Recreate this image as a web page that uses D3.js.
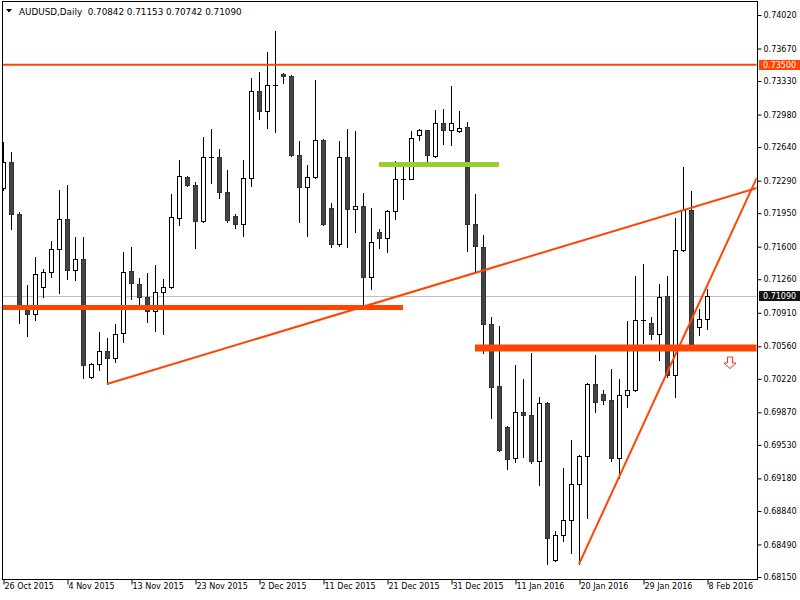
<!DOCTYPE html>
<html lang="en">
<head>
  <meta charset="utf-8">
  <title>AUDUSD Daily</title>
  <script src="https://d3js.org/d3.v7.min.js"></script>
  <style>

  body {
    margin: 0;
    background: white;
  }

  .axis text {
    font-family: "DejaVu Sans", Verdana, sans-serif;
    font-size: 8px;
    fill: black;
  }

  .axis line {
    stroke: black;
  }

  .header {
    font-family: "DejaVu Sans", Verdana, sans-serif;
    font-size: 8.8px;
    fill: black;
  }

  .price-box {
    font-family: "DejaVu Sans", Verdana, sans-serif;
    font-size: 8px;
    fill: white;
  }

  </style>
</head>
<body>
<script>

// Chart data (daily candles, 26 Oct 2015 .. 8 Feb 2016)
var opens = [
  0.72213, 0.72484, 0.71942, 0.70959, 0.70897, 0.71179, 0.71336, 0.71576, 0.71890, 0.71357,
  0.71472, 0.70239, 0.70374, 0.70510, 0.70437, 0.70699, 0.71347, 0.71211, 0.71075, 0.70928,
  0.71127, 0.71179, 0.71900, 0.72328, 0.72244, 0.71869, 0.72537, 0.72537, 0.72172, 0.71921,
  0.71837, 0.72317, 0.73227, 0.73017, 0.73289, 0.73404, 0.73383, 0.72558, 0.72223, 0.72328,
  0.72714, 0.72004, 0.71628, 0.72537, 0.71994, 0.72025, 0.71284, 0.71754, 0.71691, 0.71973,
  0.72312, 0.72307, 0.72766, 0.72819, 0.72547, 0.72892, 0.72819, 0.72808, 0.72851, 0.71837,
  0.71597, 0.70792, 0.70145, 0.69717, 0.69393, 0.69874, 0.69842, 0.69362, 0.69968, 0.68327,
  0.68589, 0.68745, 0.69122, 0.69414, 0.70166, 0.70061, 0.69999, 0.69393, 0.70051, 0.70103,
  0.70834, 0.70803, 0.70688, 0.71085, 0.70259, 0.71566, 0.71984, 0.70761, 0.70842
];
var highs = [
  0.72693, 0.72589, 0.71963, 0.71200, 0.71493, 0.71367, 0.71660, 0.72192, 0.72244, 0.71702,
  0.71702, 0.70385, 0.70709, 0.70646, 0.70792, 0.71545, 0.71597, 0.71273, 0.71326, 0.71409,
  0.71263, 0.72150, 0.72505, 0.72338, 0.72276, 0.72746, 0.72829, 0.72620, 0.72401, 0.71942,
  0.72505, 0.73362, 0.73425, 0.73634, 0.73853, 0.73415, 0.73394, 0.72704, 0.72453, 0.73341,
  0.72720, 0.72057, 0.72704, 0.72829, 0.72808, 0.72161, 0.72004, 0.71785, 0.71984, 0.72495,
  0.72484, 0.72808, 0.72829, 0.72822, 0.73028, 0.73038, 0.73279, 0.73017, 0.72903, 0.72150,
  0.71722, 0.70865, 0.70771, 0.69727, 0.70364, 0.70218, 0.70490, 0.70030, 0.69975, 0.68630,
  0.69289, 0.69581, 0.69425, 0.70176, 0.70469, 0.70103, 0.70322, 0.70218, 0.70823, 0.71294,
  0.71419, 0.70865, 0.71211, 0.71294, 0.71900, 0.72432, 0.72182, 0.70949, 0.71153
];
var lows = [
  0.72192, 0.71785, 0.70803, 0.70667, 0.70834, 0.71075, 0.71284, 0.71117, 0.71263, 0.71252,
  0.70228, 0.70228, 0.70312, 0.70166, 0.70395, 0.70604, 0.71054, 0.70991, 0.70813, 0.70719,
  0.70688, 0.71168, 0.71827, 0.72234, 0.71587, 0.71858, 0.72265, 0.72109, 0.71858, 0.71796,
  0.71712, 0.72234, 0.72934, 0.72840, 0.72798, 0.73310, 0.72550, 0.71858, 0.71712, 0.72317,
  0.71830, 0.71597, 0.71608, 0.71597, 0.71754, 0.70970, 0.71158, 0.71587, 0.71545, 0.71890,
  0.72098, 0.72302, 0.72714, 0.72443, 0.72540, 0.72672, 0.72661, 0.72798, 0.71555, 0.71326,
  0.70490, 0.69811, 0.69466, 0.69278, 0.69351, 0.69403, 0.69341, 0.69111, 0.68285, 0.68320,
  0.68526, 0.68401, 0.68285, 0.68766, 0.69874, 0.69957, 0.69362, 0.69184, 0.69926, 0.70092,
  0.70594, 0.70636, 0.70416, 0.70239, 0.70030, 0.71560, 0.70577, 0.70677, 0.70742
];
var closes = [
  0.72484, 0.71942, 0.70949, 0.70897, 0.71315, 0.71336, 0.71576, 0.71890, 0.71357, 0.71472,
  0.70364, 0.70374, 0.70510, 0.70437, 0.70688, 0.71336, 0.71221, 0.71075, 0.70928, 0.71127,
  0.71179, 0.71910, 0.72338, 0.72244, 0.71869, 0.72537, 0.72532, 0.72172, 0.71879, 0.71837,
  0.72317, 0.73227, 0.73017, 0.73289, 0.73285, 0.73383, 0.72558, 0.72223, 0.72328, 0.72714,
  0.71837, 0.71628, 0.72537, 0.71994, 0.72025, 0.71284, 0.71649, 0.71691, 0.71973, 0.72307,
  0.72302, 0.72735, 0.72819, 0.72558, 0.72892, 0.72819, 0.72892, 0.72840, 0.71837, 0.71608,
  0.70792, 0.70134, 0.69477, 0.69383, 0.69874, 0.69842, 0.69362, 0.69968, 0.68557, 0.68589,
  0.68745, 0.69122, 0.69414, 0.70166, 0.69978, 0.69999, 0.69393, 0.70051, 0.70103, 0.70834,
  0.70830, 0.70688, 0.71075, 0.70259, 0.71566, 0.71984, 0.70584, 0.70845, 0.71090
];

// Axis labels
var dateLabels = ["26 Oct 2015", "4 Nov 2015", "13 Nov 2015", "23 Nov 2015", "2 Dec 2015",
  "11 Dec 2015", "21 Dec 2015", "31 Dec 2015", "11 Jan 2016", "20 Jan 2016",
  "29 Jan 2016", "8 Feb 2016"];
var dateIndex = [0, 8, 16, 24, 32, 40, 48, 56, 64, 72, 80, 88];
var priceTicks = [0.74020, 0.73670, 0.73330, 0.72980, 0.72640, 0.72290, 0.71950, 0.71600,
  0.71260, 0.70910, 0.70560, 0.70220, 0.69870, 0.69530, 0.69180, 0.68840, 0.68490, 0.68150];

// Drawn objects
var resistance = 0.73500;
var supportLevels = [0.70965, 0.70542];
var supportSpans = [[0, 50], [59, null]];
var greenLevel = 0.72458;
var greenSpan = [47, 62];
var trendLines = [[13, 0.70166, 88, 0.72057], [72, 0.68285, 88, 0.71190]];
var arrowAt = [90.9, 0.70448];
var lastPrice = 0.71090;

// Display constants
var width = 800;
var height = 600;
var plotLeft = 2, plotRight = 757, plotTop = 1, plotBottom = 579;
var red = "#ff4500";

var svg = d3.select("body")
  .append("svg")
  .attr("width", width)
  .attr("height", height);

var x = d3.scaleLinear().domain([0, 88]).range([3, 707]);
var y = d3.scaleLinear().domain([0.68150, 0.74020]).range([577, 15]);

svg.append("clipPath")
  .attr("id", "plot-clip")
  .append("rect")
  .attr("x", plotLeft + 0.5)
  .attr("y", plotTop + 0.5)
  .attr("width", plotRight - plotLeft - 1)
  .attr("height", plotBottom - plotTop - 1);

var plot = svg.append("g").attr("clip-path", "url(#plot-clip)");

// current price line
plot.append("line")
  .attr("x1", plotLeft).attr("x2", plotRight)
  .attr("y1", Math.round(y(lastPrice)) + 0.5)
  .attr("y2", Math.round(y(lastPrice)) + 0.5)
  .attr("stroke", "#c0c0c0");

// Candles
var candles = d3.range(opens.length).map(function(i) {
  return {i: i, o: opens[i], h: highs[i], l: lows[i], c: closes[i]};
});

var cg = plot.selectAll("g.candle")
  .data(candles)
  .enter().append("g")
  .attr("class", "candle")
  .attr("shape-rendering", "crispEdges");

cg.append("line")
  .attr("x1", function(d) { return Math.round(x(d.i)) + 0.5; })
  .attr("x2", function(d) { return Math.round(x(d.i)) + 0.5; })
  .attr("y1", function(d) { return Math.round(y(d.h)); })
  .attr("y2", function(d) { return Math.round(y(d.l)) + 1; })
  .attr("stroke", "black");

cg.each(function(d) {
  var g = d3.select(this);
  var cx = Math.round(x(d.i));
  var top = Math.round(y(Math.max(d.o, d.c)));
  var bot = Math.round(y(Math.min(d.o, d.c)));
  if (bot - top < 1) {
    g.append("line")
      .attr("x1", cx - 2).attr("x2", cx + 3)
      .attr("y1", top + 0.5).attr("y2", top + 0.5)
      .attr("stroke", "black");
  } else {
    g.append("rect")
      .attr("x", cx - 1.5)
      .attr("y", top + 0.5)
      .attr("width", 4)
      .attr("height", bot - top)
      .attr("fill", d.c > d.o ? "white" : "#444444")
      .attr("stroke", d.c > d.o ? "black" : "#333333");
  }
});

// Horizontal levels
plot.append("line")
  .attr("x1", plotLeft).attr("x2", plotRight)
  .attr("y1", y(resistance)).attr("y2", y(resistance))
  .attr("stroke", red).attr("stroke-width", 2);

var supportWidths = [5, 7];
supportLevels.forEach(function(p, k) {
  var span = supportSpans[k];
  plot.append("line")
    .attr("x1", x(span[0]))
    .attr("x2", span[1] == null ? plotRight : x(span[1]))
    .attr("y1", y(p)).attr("y2", y(p))
    .attr("stroke", red)
    .attr("stroke-width", supportWidths[k]);
});

plot.append("line")
  .attr("x1", x(greenSpan[0])).attr("x2", x(greenSpan[1]))
  .attr("y1", y(greenLevel)).attr("y2", y(greenLevel))
  .attr("stroke", "#9acd32").attr("stroke-width", 5);

// Trend lines (rays to the right edge)
trendLines.forEach(function(t) {
  var x1 = x(t[0]), y1 = y(t[1]), x2 = x(t[2]), y2 = y(t[3]);
  var slope = (y2 - y1) / (x2 - x1);
  plot.append("line")
    .attr("x1", x1).attr("y1", y1)
    .attr("x2", plotRight).attr("y2", y1 + slope * (plotRight - x1))
    .attr("stroke", red).attr("stroke-width", 2);
});

// Sell arrow
var ax = Math.round(x(arrowAt[0])), ay = Math.round(y(arrowAt[1]));
plot.append("path")
  .attr("d", "M" + (ax - 2.5) + "," + ay + " h5 v6 h3.5 l-6,5.5 l-6,-5.5 h3.5 z")
  .attr("fill", "white")
  .attr("stroke", "#ff3030")
  .attr("stroke-width", 1);

// Frame
svg.append("rect")
  .attr("x", plotLeft + 0.5).attr("y", plotTop + 0.5)
  .attr("width", plotRight - plotLeft).attr("height", plotBottom - plotTop)
  .attr("fill", "none")
  .attr("stroke", "black")
  .attr("shape-rendering", "crispEdges");

// Right price axis
var yAxis = svg.append("g")
  .attr("class", "axis")
  .attr("transform", "translate(" + (plotRight + 0.5) + ",0)")
  .call(d3.axisRight(y).tickValues(priceTicks).tickSize(4).tickPadding(2)
    .tickFormat(d3.format(".5f")));
yAxis.select(".domain").remove();

// Bottom date axis
var xAxis = svg.append("g")
  .attr("class", "axis")
  .attr("transform", "translate(0," + (plotBottom + 0.5) + ")")
  .call(d3.axisBottom(x).tickValues(dateIndex).tickSize(5)
    .tickFormat(function(d, k) { return dateLabels[k]; }));
xAxis.select(".domain").remove();
xAxis.selectAll(".tick line").attr("transform", "translate(0.5,0)");
xAxis.selectAll(".tick text")
  .attr("text-anchor", "start")
  .attr("x", 1)
  .attr("y", 4);

// Price boxes on the axis
function priceBox(price, fill) {
  var yy = Math.round(y(price));
  svg.append("rect")
    .attr("x", plotRight + 2)
    .attr("y", yy - 5)
    .attr("width", width - plotRight - 2)
    .attr("height", 10)
    .attr("fill", fill);
  svg.append("text")
    .attr("class", "price-box")
    .attr("x", plotRight + 6)
    .attr("y", yy + 3)
    .text(d3.format(".5f")(price));
}
priceBox(resistance, red);
priceBox(lastPrice, "#111111");

// Header
svg.append("path")
  .attr("d", "M6,9 h6 l-3,3.5 z")
  .attr("fill", "black");
svg.append("text")
  .attr("class", "header")
  .attr("x", 19)
  .attr("y", 15)
  .text("AUDUSD,Daily  0.70842 0.71153 0.70742 0.71090")
  .style("white-space", "pre");

</script>
</body>
</html>
